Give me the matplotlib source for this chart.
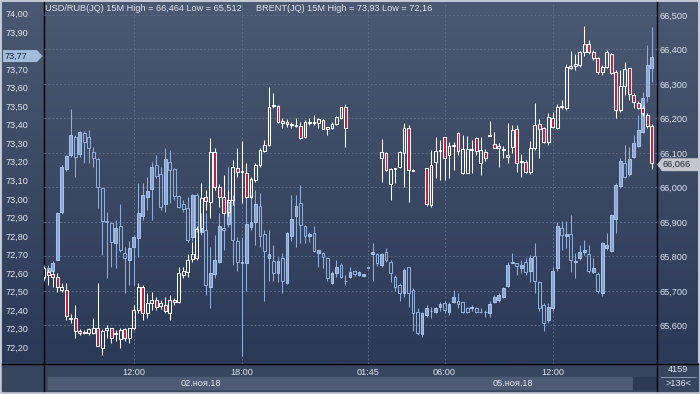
import numpy as np
import matplotlib
matplotlib.use("Agg")
import matplotlib.pyplot as plt
from matplotlib.patches import Rectangle, Polygon
from matplotlib.colors import LinearSegmentedColormap

plt.rcParams['font.family'] = ['Liberation Sans', 'DejaVu Sans']
nan = np.nan

# ---------------- data ----------------
bar_index = np.arange(136)
time_tick_bars = [20, 44, 72, 89, 113]
time_tick_labels = ['12:00', '18:00', '01:45', '06:00', '12:00']
date_labels = ['02.ноя.18', '05.ноя.18']

brent_ticks = [72.2, 72.3, 72.4, 72.5, 72.6, 72.7, 72.8, 72.9, 73.0, 73.1,
               73.2, 73.3, 73.4, 73.5, 73.6, 73.7, 73.8, 73.9, 74.0]
usd_ticks = [65.6, 65.7, 65.8, 65.9, 66.0, 66.1, 66.2, 66.3, 66.4, 66.5]

brent_open = [72.576, 72.603, 72.592, 72.576, 72.511, 72.511, 72.36, 72.36, 72.285, 72.277,
 72.274, 72.279, 72.306, 72.198, 72.29, 72.306, 72.269, 72.242, 72.296, 72.247,
 72.306, 72.398, 72.522, 72.382, 72.436, 72.452, 72.42, 72.43, 72.387, 72.452,
 72.441, 72.587, 72.603, 72.673, 72.683, 72.84, 73.008, 72.981, 73.251, 73.062,
 73.008, 72.927, 72.992, 73.165, 73.143, 73.138, 73.008, 73.10, 73.181, 73.257,
 73.289, 73.50, 73.50, 73.408, 73.413, 73.397, 73.392, 73.392, 73.332, 73.408,
 73.413, 73.408, 73.424, 73.375, 73.381, 73.402, 73.435, 73.494, nan, nan,
 nan, nan, nan, nan, nan, 73.219, 73.246, 73.078, 73.16, 73.17,
 73.246, 73.381, 73.152, nan, nan, 73.165, 72.965, 73.197, 73.257, 73.332,
 73.235, 73.287, 73.354, 73.138, 73.138, 73.262, 73.327, 73.192, 73.251, 73.34,
 73.294, 73.284, 73.262, 73.224, 73.278, 73.375, 73.197, 73.197, 73.143, 73.273,
 73.402, 73.381, 73.305, 73.435, 73.381, 73.494, 73.489, 73.705, 73.716, 73.721,
 73.791, 73.834, 73.791, 73.759, 73.683, 73.71, 73.78, 73.683, 73.478, 73.608,
 73.705, 73.559, 73.516, 73.489, 73.451, 73.392]

brent_high = [72.635, 72.62, 72.609, 72.598, 72.544, 72.544, 72.377, 72.425, 72.296, 72.29,
 72.306, 72.355, 72.544, 72.296, 72.317, 72.306, 72.29, 72.301, 72.306, 72.306,
 72.425, 72.544, 72.533, 72.49, 72.495, 72.468, 72.452, 72.468, 72.479, 72.463,
 72.63, 72.63, 72.705, 72.765, 72.851, 73.084, 73.046, 73.327, 73.273, 73.078,
 73.127, 73.046, 73.208, 73.273, 73.311, 73.192, 73.116, 73.192, 73.273, 73.316,
 73.602, 73.57, 73.505, 73.435, 73.43, 73.413, 73.435, 73.413, 73.424, 73.435,
 73.451, 73.435, 73.43, 73.386, 73.413, 73.446, 73.494, 73.51, nan, nan,
 nan, nan, nan, nan, nan, 73.321, 73.251, 73.165, 73.165, 73.257,
 73.408, 73.397, 73.16, nan, nan, 73.165, 73.262, 73.332, 73.316, 73.332,
 73.305, 73.305, 73.359, 73.343, 73.338, 73.316, 73.332, 73.332, 73.267, 73.419,
 73.359, 73.30, 73.284, 73.408, 73.397, 73.397, 73.24, 73.208, 73.311, 73.516,
 73.43, 73.386, 73.462, 73.467, 73.51, 73.532, 73.726, 73.797, 73.78, 73.797,
 73.93, 73.856, 73.802, 73.764, 73.721, 73.802, 73.786, 73.694, 73.694, 73.737,
 73.705, 73.57, 73.527, 73.50, 73.462, 73.402]

brent_low = [72.565, 72.533, 72.527, 72.50, 72.495, 72.344, 72.333, 72.252, 72.263, 72.269,
 72.263, 72.269, 72.204, 72.16, 72.252, 72.22, 72.236, 72.198, 72.231, 72.225,
 72.29, 72.382, 72.344, 72.355, 72.398, 72.398, 72.404, 72.382, 72.344, 72.425,
 72.436, 72.571, 72.576, 72.657, 72.668, 72.819, 72.938, 72.895, 73.046, 72.954,
 72.916, 72.91, 72.965, 73.116, 72.976, 73.003, 73.003, 73.089, 73.17, 73.251,
 73.284, 73.489, 73.408, 73.381, 73.386, 73.381, 73.386, 73.322, 73.327, 73.397,
 73.397, 73.381, 73.375, 73.343, 73.375, 73.397, 73.43, 73.278, nan, nan,
 nan, nan, nan, nan, nan, 73.089, 73.149, 72.992, 73.084, 73.165,
 73.062, 72.981, 73.149, nan, nan, 72.96, 72.954, 73.111, 73.10, 73.10,
 73.111, 73.154, 73.235, 73.132, 73.138, 73.138, 73.235, 73.127, 73.203, 73.338,
 73.273, 73.17, 73.219, 73.192, 73.246, 73.143, 73.116, 73.138, 73.132, 73.262,
 73.219, 73.30, 73.289, 73.381, 73.375, 73.483, 73.478, 73.699, 73.694, 73.71,
 73.77, 73.78, 73.748, 73.672, 73.667, 73.705, 73.672, 73.435, 73.467, 73.559,
 73.532, 73.489, 73.483, 73.446, 73.381, 73.16]

brent_close = [72.625, 72.587, 72.576, 72.527, 72.522, 72.366, 72.35, 72.285, 72.274, 72.282,
 72.296, 72.306, 72.209, 72.285, 72.301, 72.252, 72.274, 72.29, 72.247, 72.301,
 72.398, 72.522, 72.387, 72.436, 72.452, 72.414, 72.436, 72.393, 72.457, 72.441,
 72.598, 72.609, 72.668, 72.70, 72.835, 73.003, 72.987, 73.251, 73.062, 73.008,
 72.922, 72.992, 73.17, 73.143, 73.149, 73.008, 73.105, 73.181, 73.262, 73.289,
 73.494, 73.505, 73.413, 73.419, 73.402, 73.402, 73.397, 73.327, 73.413, 73.413,
 73.408, 73.43, 73.375, 73.386, 73.402, 73.44, 73.494, 73.381, nan, nan,
 nan, nan, nan, nan, nan, 73.251, 73.154, 73.16, 73.165, 73.251,
 73.381, 73.154, 73.154, nan, nan, 72.97, 73.181, 73.257, 73.262, 73.219,
 73.284, 73.289, 73.257, 73.267, 73.267, 73.267, 73.257, 73.262, 73.219, 73.343,
 73.273, 73.273, 73.267, 73.235, 73.37, 73.192, 73.203, 73.143, 73.273, 73.397,
 73.375, 73.305, 73.44, 73.386, 73.494, 73.50, 73.71, 73.716, 73.726, 73.791,
 73.834, 73.791, 73.759, 73.683, 73.71, 73.791, 73.678, 73.478, 73.608, 73.699,
 73.564, 73.521, 73.489, 73.462, 73.392, 73.192]

usd_open = [65.765, 65.751, 65.759, 65.791, 65.928, 66.053, 66.093, 66.146, 66.096, 66.157,
 66.146, 66.102, 66.082, 65.998, 65.902, 65.896, 65.838, 65.887, 65.809, 65.791,
 65.826, 65.852, 65.916, 65.971, 65.995, 66.064, 66.038, 65.951, 66.073, 66.053,
 65.974, 65.951, 65.940, 65.855, 65.977, 65.870, 65.876, 65.710, 65.748, 65.783,
 65.881, 65.893, 65.963, 65.844, 65.780, 65.780, 65.884, 65.899, 65.945, 65.864,
 65.794, 65.786, 65.751, 65.794, 65.722, 65.858, 65.916, 65.954, 65.887, 65.858,
 65.867, 65.809, 65.809, 65.794, 65.722, 65.751, 65.774, 65.730, 65.739, 65.759,
 65.745, 65.742, 65.768, 65.806, 65.806, 65.774, 65.812, 65.783, 65.739, 65.716,
 65.693, 65.768, 65.704, 65.640, 65.574, 65.629, 65.642, 65.638, 65.652, 65.664,
 65.638, 65.667, 65.672, 65.667, 65.649, 65.649, 65.649, 65.640, 65.640, 65.635,
 65.667, 65.675, 65.681, 65.713, 65.782, 65.780, 65.765, 65.783, 65.759, 65.800,
 65.725, 65.658, 65.617, 65.649, 65.765, 65.881, 65.858, 65.864, 65.785, 65.794,
 65.812, 65.806, 65.754, 65.748, 65.695, 65.823, 65.815, 65.908, 66.003, 66.070,
 66.038, 66.088, 66.120, 66.160, 66.265, 66.346]

usd_high = [65.774, 65.774, 65.786, 65.928, 66.064, 66.093, 66.227, 66.152, 66.163, 66.163,
 66.166, 66.117, 66.085, 65.998, 65.928, 65.899, 65.905, 65.951, 65.826, 65.846,
 65.861, 66.012, 66.012, 66.030, 66.073, 66.093, 66.059, 66.114, 66.108, 66.056,
 65.977, 65.963, 65.971, 65.980, 65.983, 65.925, 65.925, 65.826, 65.861, 65.925,
 65.934, 66.059, 65.977, 65.855, 65.855, 65.971, 65.977, 65.992, 65.983, 65.876,
 65.876, 65.832, 65.797, 65.809, 65.870, 65.977, 65.977, 66.006, 65.890, 65.870,
 65.887, 65.818, 65.812, 65.797, 65.759, 65.789, 65.780, 65.745, 65.768, 65.762,
 65.757, 65.748, 65.768, 65.838, 65.809, 65.809, 65.823, 65.789, 65.745, 65.722,
 65.765, 65.768, 65.707, 65.649, 65.638, 65.658, 65.652, 65.652, 65.667, 65.672,
 65.667, 65.704, 65.693, 65.667, 65.652, 65.658, 65.652, 65.649, 65.646, 65.672,
 65.687, 65.695, 65.710, 65.783, 65.809, 65.780, 65.789, 65.794, 65.803, 65.838,
 65.730, 65.664, 65.664, 65.768, 65.899, 65.902, 65.902, 65.919, 65.809, 65.832,
 65.849, 65.832, 65.794, 65.754, 65.841, 65.867, 65.922, 66.012, 66.085, 66.123,
 66.117, 66.152, 66.210, 66.276, 66.413, 66.464]

usd_low = [65.730, 65.742, 65.754, 65.789, 65.922, 66.047, 66.088, 66.030, 66.088, 66.070,
 66.070, 66.059, 65.940, 65.803, 65.736, 65.768, 65.765, 65.812, 65.695, 65.716,
 65.716, 65.797, 65.905, 65.934, 65.905, 66.027, 65.934, 65.928, 65.954, 65.963,
 65.940, 65.928, 65.841, 65.846, 65.870, 65.861, 65.687, 65.649, 65.736, 65.780,
 65.818, 65.884, 65.774, 65.759, 65.512, 65.701, 65.876, 65.832, 65.826, 65.672,
 65.730, 65.730, 65.725, 65.695, 65.719, 65.846, 65.826, 65.838, 65.838, 65.841,
 65.812, 65.768, 65.765, 65.730, 65.719, 65.739, 65.736, 65.716, 65.736, 65.742,
 65.742, 65.742, 65.767, 65.730, 65.771, 65.768, 65.783, 65.725, 65.701, 65.672,
 65.681, 65.652, 65.585, 65.571, 65.565, 65.623, 65.620, 65.635, 65.643, 65.635,
 65.629, 65.664, 65.649, 65.635, 65.635, 65.643, 65.635, 65.635, 65.623, 65.623,
 65.664, 65.667, 65.678, 65.710, 65.780, 65.745, 65.751, 65.745, 65.725, 65.695,
 65.643, 65.585, 65.606, 65.643, 65.759, 65.818, 65.823, 65.754, 65.736, 65.789,
 65.803, 65.751, 65.751, 65.695, 65.684, 65.818, 65.812, 65.867, 65.998, 66.027,
 66.033, 66.085, 66.117, 66.157, 66.247, 66.305]

usd_close = [65.736, 65.765, 65.780, 65.925, 66.059, 66.090, 66.152, 66.088, 66.160, 66.131,
 66.114, 66.085, 66.001, 65.902, 65.899, 65.841, 65.881, 65.818, 65.794, 65.823,
 65.855, 65.925, 65.977, 65.989, 66.059, 66.033, 65.942, 66.082, 66.050, 65.974,
 65.942, 65.937, 65.849, 65.977, 65.881, 65.881, 65.716, 65.751, 65.791, 65.887,
 65.876, 65.957, 65.849, 65.783, 65.783, 65.893, 65.899, 65.951, 65.858, 65.815,
 65.806, 65.751, 65.786, 65.728, 65.867, 65.908, 65.945, 65.890, 65.858, 65.864,
 65.815, 65.818, 65.797, 65.736, 65.751, 65.768, 65.739, 65.729, 65.754, 65.748,
 65.754, 65.748, 65.767, 65.812, 65.780, 65.806, 65.791, 65.751, 65.710, 65.695,
 65.762, 65.695, 65.635, 65.579, 65.635, 65.649, 65.643, 65.649, 65.661, 65.646,
 65.661, 65.681, 65.661, 65.640, 65.638, 65.652, 65.640, 65.639, 65.639, 65.661,
 65.681, 65.687, 65.707, 65.774, 65.783, 65.771, 65.774, 65.754, 65.794, 65.728,
 65.649, 65.606, 65.652, 65.757, 65.887, 65.861, 65.864, 65.789, 65.786, 65.812,
 65.818, 65.759, 65.765, 65.701, 65.838, 65.832, 65.919, 66.006, 66.076, 66.030,
 66.082, 66.128, 66.166, 66.259, 66.355, 66.378]

header_usd = 'USD/RUB(JQ) 15M High = 66,464 Low = 65,512'
header_brent = 'BRENT(JQ) 15M High = 73,93 Low = 72,16'
left_tag_value = 73.77
right_tag_value = 66.066
bars_total_label = '4159'
bars_visible_label = '>136<'

# ---------------- styling ----------------
W, H = 700, 394
TXT = '#e2e6ee'
FS = 6.6

fig = plt.figure(figsize=(W / 100, H / 100), dpi=100)

bg = fig.add_axes([0, 0, 1, 1])
bg.axis('off')
bg.add_patch(Rectangle((0, 0), W, H, color='#c2c9d4', zorder=0))
cmap = LinearSegmentedColormap.from_list('g', ['#4b5871', '#2a3957'])
grad = np.linspace(0, 1, 256)[:, None]
bg.imshow(grad, extent=(2, 698, 363, 2), cmap=cmap, aspect='auto', zorder=1)
bg.add_patch(Rectangle((2, 363), 696, 28, color='#37465f', zorder=2))
bg.add_patch(Rectangle((48, 377), 585, 12, color='#4d5b74', zorder=3))
bg.add_patch(Rectangle((633, 377), 23, 12, color='#2c3a55', zorder=3))
bg.plot([43.5, 43.5], [2, 391], color='black', lw=1.0, zorder=4)
bg.plot([656.5, 656.5], [2, 391], color='black', lw=1.0, zorder=4)
bg.plot([2, 698], [363.5, 363.5], color='black', lw=1.0, zorder=4)
bg.plot([661, 696], [377, 377], color='#9aa5b8', lw=0.6, zorder=4)
bg.set_xlim(0, W)
bg.set_ylim(H, 0)

L, R = 43.5 / W, 656.5 / W
B, T = (H - 363.5) / H, (H - 3) / H
ax_usd = fig.add_axes([L, B, R - L, T - B])
ax_br = fig.add_axes([L, B, R - L, T - B], sharex=ax_usd)
for a in (ax_usd, ax_br):
    a.set_facecolor('none')
    for s in a.spines.values():
        s.set_visible(False)

ax_usd.set_xlim(-0.05, 136.05)
ax_usd.set_ylim(65.4895, 66.5348)
ax_br.set_ylim(72.112, 74.056)


def draw_candles(ax, x, o, h, l, c, up_fc, up_ec, dn_fc, dn_ec, wick_c, w=0.62, min_h=0.001):
    x = np.asarray(x, float)
    o, h, l, c = (np.asarray(v, float) for v in (o, h, l, c))
    ok = ~np.isnan(o)
    x, o, h, l, c = x[ok], o[ok], h[ok], l[ok], c[ok]
    top = np.maximum(o, c)
    bot = np.minimum(o, c)
    ax.vlines(x, top, h, color=wick_c, lw=0.75, zorder=2)
    ax.vlines(x, l, bot, color=wick_c, lw=0.75, zorder=2)
    up = c >= o
    hgt = np.maximum(top - bot, min_h)
    ax.bar(x[up], hgt[up], w, bot[up], facecolor=up_fc, edgecolor=up_ec,
           linewidth=0.75, zorder=3)
    ax.bar(x[~up], hgt[~up], w, bot[~up], facecolor=dn_fc, edgecolor=dn_ec,
           linewidth=0.75, zorder=3)


draw_candles(ax_usd, bar_index, usd_open, usd_high, usd_low, usd_close,
             up_fc='#89a7d4', up_ec='#a6c0e8', dn_fc='none', dn_ec='#90aedb',
             wick_c='#90aedb', min_h=0.0008)
draw_candles(ax_br, bar_index, brent_open, brent_high, brent_low, brent_close,
             up_fc='none', up_ec='#ffffff', dn_fc='#c81a3c', dn_ec='#ffffff',
             wick_c='#ffffff', min_h=0.0015)

# axes, ticks, grid
ax_usd.yaxis.tick_right()
ax_usd.set_yticks(usd_ticks)
ax_usd.set_yticklabels([f'{v:.3f}'.replace('.', ',') for v in usd_ticks])
ax_usd.tick_params(axis='y', length=0, pad=2.2, labelsize=FS, labelcolor=TXT)
ax_usd.set_xticks(time_tick_bars)
ax_usd.set_xticklabels(time_tick_labels)
ax_usd.tick_params(axis='x', length=0, pad=3.0, labelsize=FS, labelcolor=TXT)
ax_usd.set_axisbelow(True)
ax_usd.grid(True, color='#5e6b86', linestyle=(0, (2, 2)), linewidth=0.7)

# the 73,80 label sits under the price tag in the reference, so it is left blank
brent_tick_labels = ['' if abs(v - 73.8) < 1e-9 else f'{v:.2f}'.replace('.', ',')
                     for v in brent_ticks]
ax_br.yaxis.tick_left()
ax_br.set_yticks(brent_ticks)
ax_br.set_yticklabels(brent_tick_labels)
ax_br.tick_params(axis='y', length=0, pad=10.6, labelsize=FS, labelcolor=TXT)
ax_br.tick_params(axis='x', bottom=False, labelbottom=False)
ax_br.grid(False)

# header texts
fig.text(45 / W, 1 - 8.5 / H, header_usd, fontsize=FS, color=TXT, va='center', ha='left')
fig.text(256 / W, 1 - 8.5 / H, header_brent, fontsize=FS, color=TXT, va='center', ha='left')

# date labels & bottom right box
fig.text(201 / W, 1 - 383 / H, date_labels[0], fontsize=FS, color=TXT, va='center', ha='center')
fig.text(513 / W, 1 - 383 / H, date_labels[1], fontsize=FS, color=TXT, va='center', ha='center')
fig.text(688 / W, 1 - 370 / H, bars_total_label, fontsize=FS, color=TXT, va='center', ha='right')
fig.text(678 / W, 1 - 383.5 / H, bars_visible_label, fontsize=FS, color=TXT, va='center', ha='center')

# price tags
ov = fig.add_axes([0, 0, 1, 1], zorder=10)
ov.set_facecolor('none')
ov.axis('off')
ov.set_xlim(0, W)
ov.set_ylim(H, 0)
yl = H - ax_br.transData.transform((0, left_tag_value))[1]
yr = H - ax_usd.transData.transform((0, right_tag_value))[1]
ov.add_patch(Polygon([(3, yl - 6), (37, yl - 6), (42.5, yl), (37, yl + 6), (3, yl + 6)],
                     closed=True, fc='#a3bcdb', ec='none'))
ov.text(4.5, yl, f'{left_tag_value:.2f}'.replace('.', ','), fontsize=FS, color='#18233a',
        va='center', ha='left')
ov.add_patch(Polygon([(657, yr), (662, yr - 6.5), (699, yr - 6.5), (699, yr + 6.5), (662, yr + 6.5)],
                     closed=True, fc='#c3c7cd', ec='none'))
ov.text(662.5, yr, f'{right_tag_value:.3f}'.replace('.', ','), fontsize=FS, color='#1c2230',
        va='center', ha='left')

fig.savefig('out.png', dpi=100)
